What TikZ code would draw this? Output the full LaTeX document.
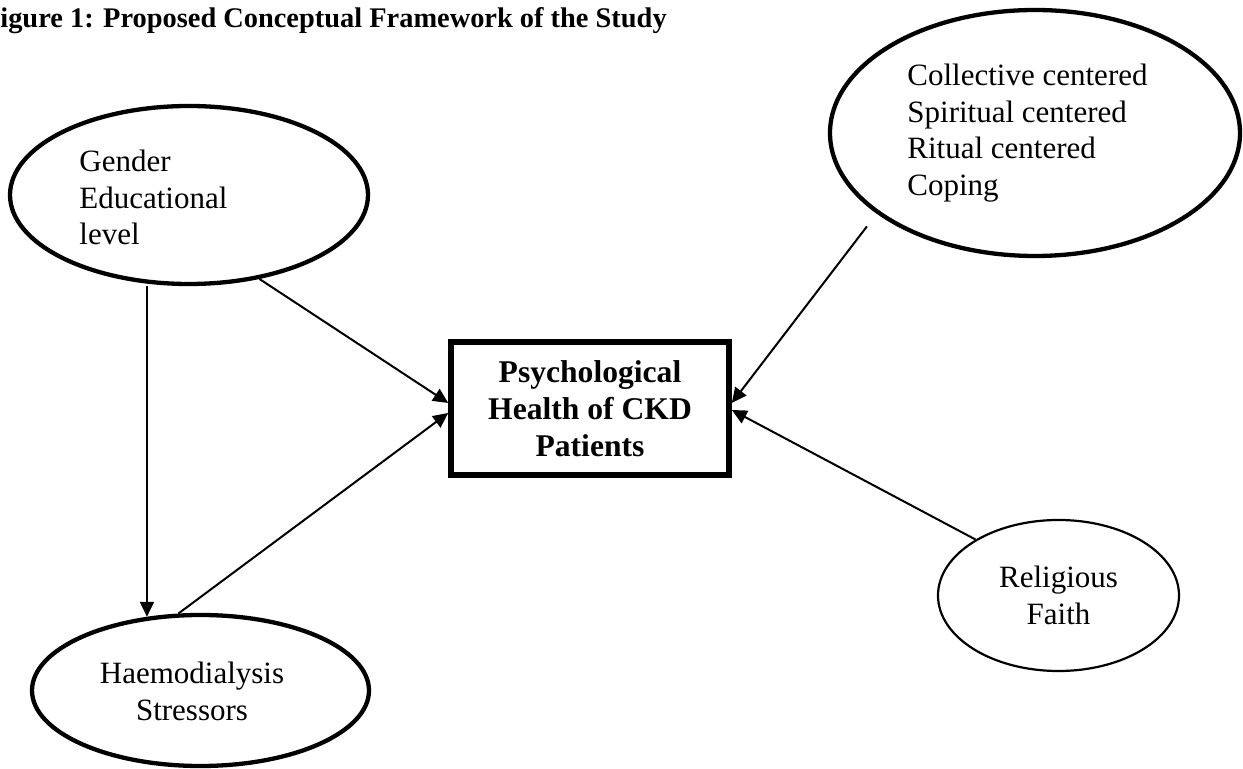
\documentclass[tikz,border=0pt]{standalone}
\usepackage{fontspec}
\setmainfont{Liberation Serif}
\usepackage{tikz}
\usetikzlibrary{shapes.geometric,arrows.meta,positioning,calc}

\begin{document}
\begin{tikzpicture}[x=0.5pt, y=-0.5pt,
  texte/.style={font=\fontsize{15.5}{18.25}\selectfont, inner sep=0pt},
  bulle/.style={draw, ellipse, line width=2.15pt, inner sep=0pt},
  fleche/.style={-{Triangle[length=7.5pt,width=7pt]}, line width=1pt}]

\useasboundingbox (0,0) rectangle (1243,769);

\node[anchor=base west, inner sep=0pt, font=\fontsize{14.2}{17}\selectfont\bfseries] (titre) at (0,28)
    {igure 1: Proposed Conceptual Framework of the Study};

% les variables
\node[bulle, minimum width=179pt, minimum height=89pt] (genre) at (189,195) {};
\node[texte, anchor=north west, align=left] (genreTxt) at (79,150) {Gender\\Educational\\level};

\node[bulle, minimum width=205pt, minimum height=123pt] (coping) at (1035,133) {};
\node[texte, anchor=north west, align=left] (copingTxt) at (907,64)
    {Collective centered\\Spiritual centered\\Ritual centered\\Coping};

\node[bulle, minimum width=168.5pt, minimum height=75.5pt] (stress) at (200.5,690.5) {};
\node[texte, anchor=north, align=center] (stressTxt) at (192,662) {Haemodialysis\\Stressors};

\node[bulle, line width=1.1pt, minimum width=120.5pt, minimum height=75.5pt, texte, align=center] (foi) at (1058.5,595.5)
    {Religious\\Faith};

% la variable dependante
\node[draw, line width=2.8pt, minimum width=139pt, minimum height=66.5pt, inner sep=0pt, align=center,
      font=\fontsize{15.8}{18.5}\selectfont\bfseries] (psy) at (590,408.5)
    {Psychological\\Health of CKD\\Patients};

\draw[fleche] (genre.-50) -- ([yshift=2.75pt]psy.west);
\draw[fleche] (stress.126 |- genre.south) -- (stress.126);
\draw[fleche] (stress.106) -- ([yshift=-2.25pt]psy.west);
\draw[fleche, shorten <=8pt] (coping.207) -- ([yshift=2.75pt]psy.east);
\draw[fleche] (foi.146) -- ([yshift=-0.75pt]psy.east);

\end{tikzpicture}
\end{document}
